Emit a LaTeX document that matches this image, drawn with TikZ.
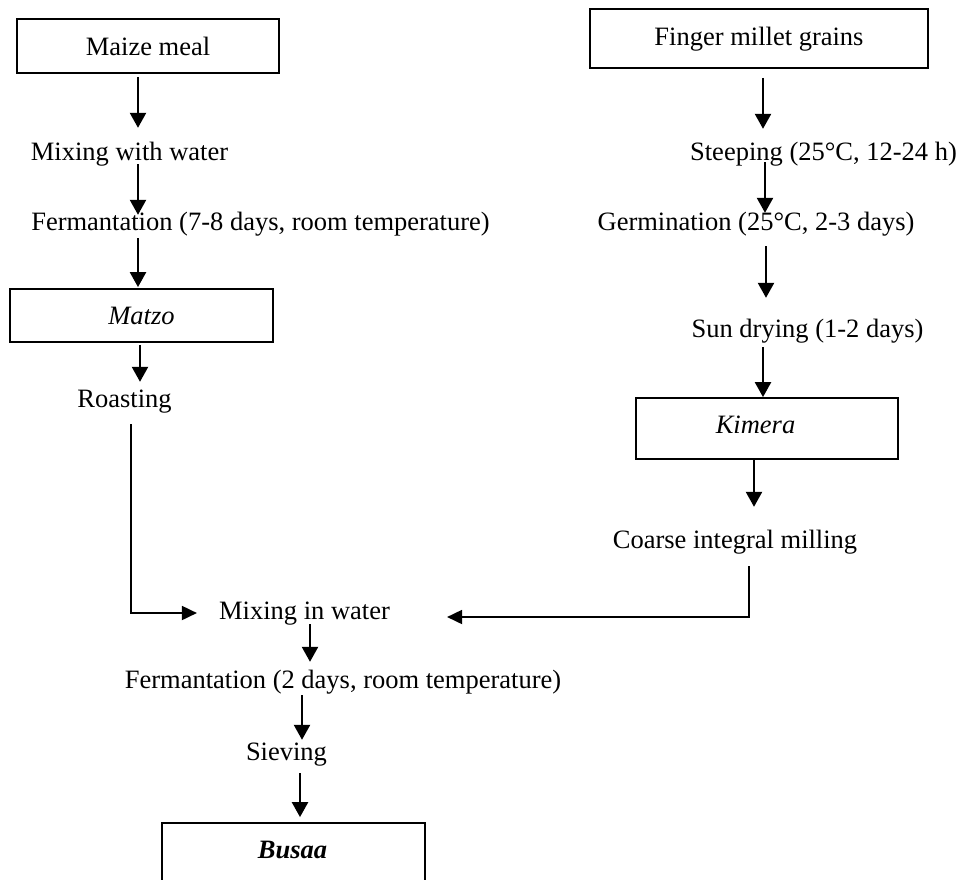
\documentclass[tikz,border=0pt]{standalone}
\usepackage{fontspec}
\setmainfont{Liberation Serif}
\usetikzlibrary{arrows.meta,calc}

\begin{document}
\begin{tikzpicture}[x=1pt,y=-1pt,
  txt/.style={inner sep=0pt,text height=18pt,text depth=6pt,anchor=base,
    font=\fontsize{26.5}{30}\selectfont},
  boxnode/.style={draw,line width=1.8pt,inner sep=0pt,text height=18pt,text depth=0pt,
    font=\fontsize{26.5}{30}\selectfont},
  arr/.style={line width=2.4pt,-{Triangle[width=16pt,length=15pt]}},
  feed/.style={line width=1.8pt,-{Triangle[width=14pt,length=15pt]}}]
\useasboundingbox (0,0) rectangle (961,879);
\clip (0,0) rectangle (961,879);

% columns used by the vertical arrows
\coordinate (xA) at (138,0);
\coordinate (xB) at (140,0);
\coordinate (xR) at (131,0);
\coordinate (xF1) at (763,0);
\coordinate (xF2) at (765,0);
\coordinate (xF3) at (766,0);
\coordinate (xF5) at (754,0);
\coordinate (xC) at (749,0);
\coordinate (xM1) at (310,0);
\coordinate (xM2) at (302,0);
\coordinate (xM3) at (300,0);

% maize branch
\node[boxnode,minimum width=262pt,minimum height=54pt] (maize) at (148,46) {Maize meal};
\node[txt] (mixw) at (129.5,160) {Mixing with water};
\node[txt] (fermL) at (260.5,230) {Fermantation (7-8 days, room temperature)};
\node[boxnode,minimum width=263pt,minimum height=53pt] (matzo) at (141.5,315.5) {\itshape Matzo};
\node[txt] (roast) at (124.5,407) {Roasting};

% finger millet branch
\node[boxnode,minimum width=338pt,minimum height=59pt,text depth=5pt] (finger) at (759,38.5) {Finger millet grains};
\node[txt] (steep) at (823.5,160) {Steeping (25°C, 12-24 h)};
\node[txt] (germ) at (756,230) {Germination (25°C, 2-3 days)};
\node[txt] (sun) at (807.5,337) {Sun drying (1-2 days)};
\node[boxnode,minimum width=262pt,minimum height=61pt] (kimera) at (767,428.5) {};
\node[txt] (kimeraT) at (755.5,433) {\itshape Kimera};
\node[txt] (coarse) at (735,548) {Coarse integral milling};

% common part
\node[txt] (mixin) at (304.5,619) {Mixing in water};
\node[txt] (ferm2) at (343,688) {Fermantation (2 days, room temperature)};
\node[txt] (sieve) at (286.5,760) {Sieving};
\node[boxnode,minimum width=263pt,minimum height=80pt] (busaa) at (293.5,863) {};
\node[txt] (busaaT) at (292.5,858) {\bfseries\itshape Busaa};

% arrows, maize branch
\draw[arr] ($(maize.south -| xA)+(0,3)$) -- ($(mixw.north -| xA)+(0,-14)$);
\draw[arr] ($(mixw.south -| xA)+(0,-2)$) -- ($(fermL.north -| xA)+(0,3)$);
\draw[arr] ($(fermL.south -| xA)+(0,2)$) -- ($(matzo.north -| xA)+(0,-1)$);
\draw[arr] ($(matzo.south -| xB)+(0,2)$) -- ($(roast.north -| xB)+(0,-7)$);

% arrows, finger millet branch
\draw[arr] ($(finger.south -| xF1)+(0,9)$) -- ($(steep.north -| xF1)+(0,-13)$);
\draw[arr] ($(steep.south -| xF2)+(0,-4)$) -- ($(germ.north -| xF2)+(0,1)$);
\draw[arr] ($(germ.south -| xF3)+(0,10)$) -- ($(sun.north -| xF3)+(0,-21)$);
\draw[arr] ($(sun.south -| xF1)+(0,4)$) -- (kimera.north -| xF1);
\draw[arr] (kimera.south -| xF5) -- ($(coarse.north -| xF5)+(0,-23)$);

% the two branches join
\draw[feed] ($(roast.south -| xR)+(0,11)$) |- ($(mixin.west)+(-22,0)$);
\draw[feed] ($(coarse.south -| xC)+(0,12)$) |- ($(mixin.east)+(57,4)$);

% arrows, common part
\draw[arr] ($(mixin.south -| xM1)+(0,-1)$) -- ($(ferm2.north -| xM1)+(0,-8)$);
\draw[arr] ($(ferm2.south -| xM2)+(0,1)$) -- ($(sieve.north -| xM2)+(0,-2)$);
\draw[arr] ($(sieve.south -| xM3)+(0,7)$) -- ($(busaa.north -| xM3)+(0,-5)$);
\end{tikzpicture}
\end{document}
